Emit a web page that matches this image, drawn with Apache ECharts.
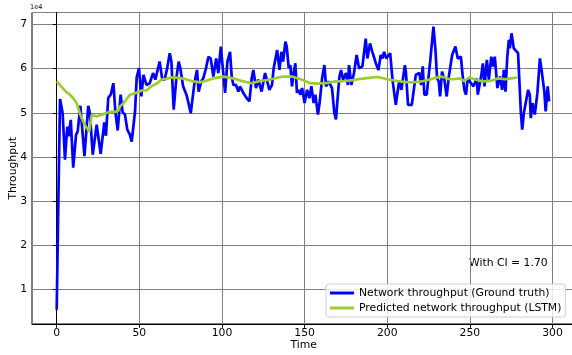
<!DOCTYPE html>
<html>
<head>
<meta charset="utf-8">
<script src="https://cdn.jsdelivr.net/npm/echarts@6/dist/echarts.min.js"></script>
<style>
  html, body { margin: 0; padding: 0; background: #fff; }
  #chart { width: 572px; height: 355px; }
</style>
</head>
<body>
<div id="chart"></div>
<script>
// Measured network throughput (units of 1e4), as [time, value]
const groundTruth = [
  [0,0.54],[1,3.0],[2,5.31],[3.6,4.99],[5,3.94],[6.4,4.69],[7.2,4.47],[8.5,4.84],[10,3.76],
  [11.7,4.5],[12.7,4.58],[14.3,5.16],[16.8,4.02],[19.1,5.16],[20.1,4.99],[21.8,4.05],[24.2,4.73],
  [26.6,4.07],[28.8,4.78],[29.8,4.48],[31.2,5.34],[32.7,5.41],[34.3,5.67],[35.5,5.03],[36.9,4.60],
  [38.7,5.41],[39.9,5.01],[41.3,4.96],[42.7,4.62],[44.2,4.51],[45.4,4.35],[47.4,5.03],[48.4,5.80],
  [49.8,6.01],[51.2,5.37],[52.5,5.86],[54.3,5.63],[56.3,5.67],[58.3,5.90],[59.7,5.75],[62.3,6.16],
  [63.9,5.75],[65.3,5.75],[66.8,6.0],[68.4,6.35],[69.4,6.16],[70.8,5.07],[72.4,5.78],[73.8,6.16],
  [74.8,6.01],[76.5,5.60],[78.5,5.41],[79.5,5.26],[81.1,4.99],[83.5,5.71],[84.9,5.97],[85.9,5.48],
  [87.5,5.71],[88.7,5.78],[90.3,6.0],[91.8,6.27],[93.2,6.23],[94.8,5.82],[96.5,6.23],[97.8,5.90],
  [99.3,6.50],[100.3,6.53],[101.9,5.45],[103.3,6.16],[104.9,6.38],[105.9,5.82],[106.9,5.63],
  [108.5,5.63],[109.9,5.48],[110.9,5.60],[112.9,5.45],[115,5.33],[116.6,5.26],[118,5.78],[119,5.97],
  [120.6,5.56],[122,5.75],[124,5.48],[126.1,5.90],[128.7,5.52],[130.3,5.63],[131.3,6.01],[133.4,6.42],
  [134.8,5.97],[136,6.38],[137,6.16],[138.4,6.61],[139.2,6.50],[140.4,6.01],[141.4,6.08],[142.4,5.60],
  [143.4,5.90],[144.4,6.12],[145.4,5.45],[146.5,5.52],[147.5,5.41],[148.5,5.56],[150,5.22],[151.5,5.52],
  [152.9,5.33],[154.1,5.60],[155.5,5.22],[156.5,5.41],[158.1,4.96],[159.2,5.26],[160.6,5.78],[162,6.08],
  [163,5.60],[164.6,5.71],[166.6,5.56],[168,5.00],[169,4.85],[170,5.33],[171.1,5.82],[172.1,5.97],
  [173.3,5.75],[175.1,5.90],[176.2,5.63],[176.9,6.08],[178.3,5.63],[179.9,5.90],[181.5,6.31],[183,6.01],
  [185,6.05],[187,6.68],[188,6.23],[189.6,6.57],[191,6.38],[193.5,6.08],[194.7,5.97],[196.1,6.31],
  [197.1,6.23],[198.1,6.38],[199.5,6.23],[201.8,6.35],[203.2,5.75],[205.2,5.18],[207.2,5.71],[208.6,5.52],
  [210.7,6.08],[211.3,5.93],[212.6,5.18],[214.9,5.18],[217.3,5.86],[219.5,5.90],[220.5,5.63],[221.5,6.05],
  [222.5,5.41],[223.9,5.41],[226,6.16],[228,6.95],[229.2,6.42],[230.2,5.78],[231.2,5.71],[232,5.37],
  [233.2,5.93],[234.6,5.75],[236,5.37],[237.3,5.82],[239.3,6.31],[241.3,6.50],[242.7,6.23],[244.6,6.27],
  [245.6,5.86],[246.7,5.52],[247.7,5.41],[248.7,5.78],[250.7,5.67],[252.2,5.60],[253.4,5.63],[254.2,5.78],
  [254.8,5.41],[257,5.86],[257.9,6.12],[258.9,5.60],[260.3,6.20],[261.5,5.75],[263,6.27],[264,6.05],
  [265.1,6.27],[266.7,5.56],[268.2,5.82],[269.6,5.52],[270.6,5.97],[271.6,5.48],[272.6,6.23],[273.6,6.65],
  [274.2,6.46],[275.2,6.80],[276.6,6.46],[277.8,6.42],[279.2,6.35],[280.9,5.00],[281.7,4.62],[282.7,5.00],
  [283.7,5.00],[285.3,5.52],[286.3,5.41],[286.9,4.88],[287.9,5.22],[289.3,4.96],[290.9,5.45],[292.4,6.23],
  [293.4,5.97],[295.1,5.48],[295.9,5.03],[297.1,5.60],[298,5.26]
];

// LSTM prediction (units of 1e4), as [time, value]
const predicted = [
  [0,5.71],[2.4,5.61],[5.6,5.48],[8,5.41],[10,5.33],[12.1,5.22],[14.1,4.98],[15.1,4.88],[17.1,4.72],
  [19.7,4.58],[21.2,4.95],[22,4.97],[24.2,4.92],[26.8,4.95],[28.2,4.97],[30.3,5.0],[33.3,5.03],
  [35.3,5.02],[37.3,5.05],[38.3,5.15],[40.3,5.21],[41.3,5.24],[43.3,5.36],[44.4,5.41],[47.4,5.44],
  [51.2,5.50],[54.5,5.51],[57.3,5.60],[60.5,5.66],[63.3,5.75],[66.6,5.77],[69.4,5.80],[73.6,5.79],
  [77,5.77],[81.5,5.72],[86.7,5.69],[90,5.72],[94.8,5.78],[100.9,5.82],[106.9,5.78],[112.9,5.71],
  [118,5.67],[123,5.72],[127.1,5.74],[131.1,5.77],[136.4,5.82],[142.4,5.82],[148.5,5.75],[153.3,5.67],
  [158,5.66],[162.6,5.67],[168.6,5.71],[174.7,5.72],[179,5.74],[184,5.77],[189,5.79],[194.1,5.81],
  [200.1,5.76],[206.2,5.72],[210,5.70],[214.3,5.69],[218.7,5.70],[222,5.72],[225.5,5.75],[229,5.79],
  [232.6,5.82],[235,5.80],[237.6,5.76],[240.5,5.76],[243.7,5.78],[246.7,5.72],[249.8,5.80],[253.8,5.75],
  [257.9,5.71],[262.4,5.72],[267.1,5.78],[271.2,5.76],[275,5.78],[278.8,5.80]
];

const seriesNames = ['Network throughput (Ground truth)', 'Predicted network throughput (LSTM)'];
const seriesColors = ['#0000ff', '#9acd32'];
const annotation = 'With CI = 1.70';
const yOffsetText = '1e4';

const FONT = 'DejaVu Sans';
const FS = 10.8;

const chart = echarts.init(document.getElementById('chart'), null, { renderer: 'canvas' });

chart.setOption({
  animation: false,
  backgroundColor: '#ffffff',
  grid: {
    left: 32, top: 12.5, width: 543.5, height: 311.5,
    containLabel: false, outerBoundsMode: 'none',
    show: true, borderColor: '#000', borderWidth: 1, backgroundColor: 'transparent'
  },
  xAxis: {
    type: 'value',
    min: -14.95, max: 313.95,
    splitNumber: 5,
    name: 'Time', nameLocation: 'middle', nameGap: 16, nameMoveOverlap: false,
    nameTextStyle: { color: '#000', fontFamily: FONT, fontSize: FS },
    axisLine: { show: true, lineStyle: { color: '#000', width: 1 } },
    axisTick: { show: true, length: 3.8, lineStyle: { color: '#000', width: 1 } },
    axisLabel: { color: '#000', fontFamily: FONT, fontSize: FS, margin: 4,
                 showMinLabel: false, showMaxLabel: false },
    splitLine: { show: true, lineStyle: { color: '#808080', width: 1 } }
  },
  yAxis: {
    type: 'value',
    min: 0.2195, max: 7.2705,
    splitNumber: 5,
    name: 'Throughput', nameLocation: 'middle', nameGap: 13, nameMoveOverlap: false,
    nameTextStyle: { color: '#000', fontFamily: FONT, fontSize: FS },
    axisLine: { show: true, lineStyle: { color: '#000', width: 1 } },
    axisTick: { show: true, length: 3.8, lineStyle: { color: '#000', width: 1 } },
    axisLabel: { color: '#000', fontFamily: FONT, fontSize: FS, margin: 5,
                 showMinLabel: false, showMaxLabel: false },
    splitLine: { show: true, lineStyle: { color: '#808080', width: 1 } }
  },
  legend: {
    orient: 'vertical',
    left: 326, top: 284,
    padding: [3, 4, 3, 4],
    itemGap: 3,
    itemWidth: 24, itemHeight: 3,
    icon: 'rect',
    backgroundColor: 'rgba(255,255,255,0.8)',
    borderColor: '#cccccc', borderWidth: 1, borderRadius: 3,
    textStyle: { color: '#000', fontFamily: FONT, fontSize: FS, lineHeight: 12 },
    data: seriesNames
  },
  graphic: [
    { type: 'text', left: 469, top: 258,
      style: { text: annotation, fill: '#000', font: FS + 'px "' + FONT + '"' } },
    { type: 'text', left: 30, top: 4,
      style: { text: yOffsetText, fill: '#000', font: '6.5px "' + FONT + '"' } }
  ],
  series: [
    { name: seriesNames[0], type: 'line', data: groundTruth, showSymbol: false, symbol: 'none',
      lineStyle: { color: seriesColors[0], width: 2.7 }, itemStyle: { color: seriesColors[0] }, z: 3 },
    { name: seriesNames[1], type: 'line', data: predicted, showSymbol: false, symbol: 'none',
      lineStyle: { color: seriesColors[1], width: 2.7 }, itemStyle: { color: seriesColors[1] }, z: 4 }
  ]
});
</script>
</body>
</html>
